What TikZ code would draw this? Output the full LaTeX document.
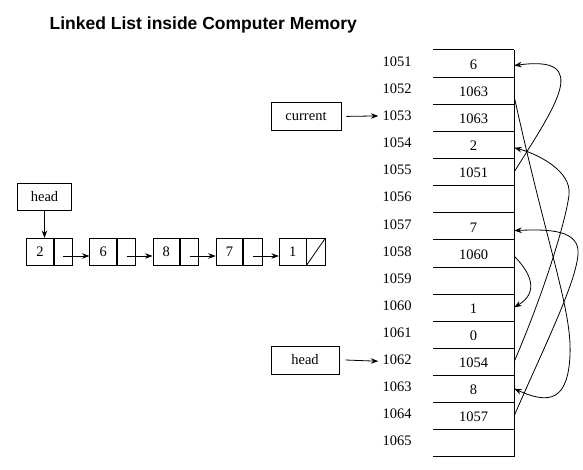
\documentclass[tikz,border=0pt]{standalone}
\usepackage{fontspec}
\setmainfont{Liberation Serif}
\newfontfamily\titlefont{Liberation Sans}
\usetikzlibrary{arrows.meta,calc}
\begin{document}
\begin{tikzpicture}[x=1pt,y=-1pt,
  every node/.style={font=\fontsize{14.5}{17}\selectfont},
  ln/.style={line width=0.8pt},
  arr/.style={ln,-{Stealth[length=7.5pt,width=5.5pt]}},
  box/.style={draw,ln,inner sep=0pt},
  memcell/.style={inner sep=0pt,minimum width=81pt,minimum height=27.09pt},
  addr/.style={inner xsep=4pt,inner ysep=0pt},
]
\useasboundingbox (0,0) rectangle (583,470);

% title
\node[font=\titlefont\bfseries\fontsize{17.5}{20}\selectfont,anchor=base] (title) at (203.3,29.5) {Linked List inside Computer Memory};

% linked list on the left
\foreach \v [count=\i] in {2,6,8,7,1} {
  \node[box,minimum width=26.7pt,minimum height=26.7pt] (v\i) at ({40.05+63.15*(\i-1)},251.7) {\v};
  \node[box,minimum width=18.3pt,minimum height=26.7pt,anchor=west] (p\i) at (v\i.east) {};
}
\foreach \i/\j in {1/2,2/3,3/4,4/5}
  \draw[arr] ([yshift=-4.3pt]p\i.center) -- ([yshift=-4.3pt]v\j.west);
\draw[ln] (p5.south west) -- (p5.north east);

\node[box,minimum width=54.4pt,minimum height=27.4pt] (head) at (44.5,197) {head};
\draw[arr] (head.south) -- (head.south |- v1.north);

% memory table
\foreach \a/\v [count=\i from 0] in {1051/6,1052/1063,1053/1063,1054/2,1055/1051,1056/{},1057/7,1058/1060,1059/{},1060/1,1061/0,1062/1054,1063/8,1064/1057,1065/{}} {
  \node[memcell] (m\a) at (473.5,{50+27.09*(\i+0.5)}) {};
  \node (t\a) at ([yshift=-1.2pt]m\a.center) {\v};
  \node[addr] (a\a) at (397,{50+27.09*(\i+0.5)-1.8}) {\a};
  \draw[ln] (m\a.south west) -- (m\a.south east);
}
\draw[ln] (m1051.north west) -- (m1051.north east);
\draw[ln] (m1051.north east) -- (m1065.south east);

% pointer boxes
\node[box,minimum width=70pt,minimum height=27.3pt] (cur) at (306,116.4) {current};
\draw[arr] ([xshift=5pt]cur.east) -- (a1053.west);
\node[box,minimum width=68pt,minimum height=28pt] (headm) at (305,360) {head};
\draw[arr] ([xshift=6pt]headm.east) -- ([yshift=-1.5pt]a1062.west);

% memory links
\draw[arr] (m1055.east) .. controls (556,105) and (592,55) .. ([yshift=-2pt]m1051.east);
\draw[arr] ([yshift=-6pt]m1052.east) .. controls (548,250) and (572,310) .. (570,355) .. controls (568,400) and (550,405) .. (m1063.east);
\draw[arr] (m1062.east) .. controls (545,290) and (566,220) .. (569,195) .. controls (572,170) and (535,153) .. ([yshift=-3pt]m1054.east);
\draw[arr] (m1064.east) .. controls (545,345) and (575,285) .. (578,255) .. controls (580.5,230) and (550,229) .. ([yshift=-4.5pt]m1057.east);
\draw[arr] ([yshift=-3pt]m1058.east) .. controls (530,272) and (540,292) .. (m1060.east);
\end{tikzpicture}
\end{document}
